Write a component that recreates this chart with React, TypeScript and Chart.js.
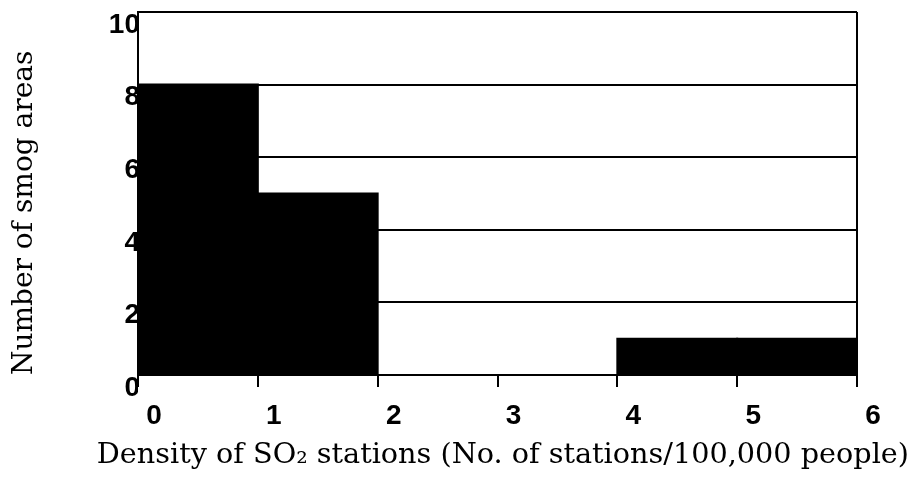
import React, { useEffect, useRef } from "react";
import { Chart, registerables } from "chart.js";

Chart.register(...registerables);

// Histogram bins (centre of each bin) and counts
const binCenters = [0.5, 1.5, 2.5, 3.5, 4.5, 5.5];
const smogAreas = [8, 5, 0, 0, 1, 1];
const xTickValues = [0, 1, 2, 3, 4, 5, 6];
const yTickValues = [0, 2, 4, 6, 8, 10];
const xTitle = "Density of SO\u2082 stations (No. of stations/100,000 people)";
const yTitle = "Number of smog areas";

export default function App() {
  const ref = useRef<HTMLCanvasElement>(null);

  useEffect(() => {
    const plotFrame = {
      id: "plotFrame",
      beforeDatasetsDraw(chart: any) {
        const { ctx, chartArea: a } = chart;
        ctx.save();
        ctx.fillStyle = "#fff";
        ctx.fillRect(a.left, a.top, a.right - a.left, a.bottom - a.top);
        ctx.restore();
      },
      afterDraw(chart: any) {
        const { ctx, chartArea: a } = chart;
        ctx.save();
        ctx.strokeStyle = "#000";
        ctx.lineWidth = 2;
        ctx.beginPath();
        ctx.moveTo(a.right, a.top);
        ctx.lineTo(a.right, a.bottom);
        ctx.stroke();
        ctx.restore();
      },
    };

    const chart = new Chart(ref.current!, {
      type: "bar",
      data: {
        datasets: [
          {
            data: binCenters.map((x, i) => ({ x, y: smogAreas[i] })),
            backgroundColor: "#000",
            borderWidth: 0,
            inflateAmount: 1,
            barPercentage: 1,
            categoryPercentage: 1,
          },
        ],
      },
      options: {
        animation: false,
        responsive: false,
        layout: { padding: { top: 4, right: 4, left: 0, bottom: 0 } },
        plugins: {
          legend: { display: false },
          tooltip: { enabled: false },
          title: {
            display: true,
            position: "bottom",
            align: "end",
            text: xTitle,
            color: "#000",
            padding: { top: 0, bottom: -3 },
            font: { family: "DejaVu Serif", size: 28.7, weight: "normal" },
          },
        },
        scales: {
          x: {
            type: "linear",
            min: 0,
            max: 6,
            offset: false,
            afterBuildTicks: (s: any) => {
              s.ticks = xTickValues.map((v) => ({ value: v }));
            },
            afterFit: (s: any) => {
              s.height = 63.56;
              s.paddingLeft = 0;
              s.paddingRight = 56;
            },
            grid: {
              offset: false,
              drawOnChartArea: false,
              drawTicks: true,
              tickLength: 12,
              color: "#000",
              lineWidth: 2,
            },
            border: { display: true, color: "#000", width: 2, z: 1 },
            ticks: {
              color: "#000",
              padding: 12,
              labelOffset: 16,
              maxRotation: 0,
              autoSkip: false,
              font: { family: "Liberation Sans", weight: "bold", size: 28 },
            },
          },
          y: {
            type: "linear",
            min: 0,
            max: 10,
            afterBuildTicks: (s: any) => {
              s.ticks = yTickValues.map((v) => ({ value: v }));
            },
            afterFit: (s: any) => {
              s.width = 130;
              s.paddingTop = 0;
              s.paddingBottom = 0;
            },
            grid: {
              drawTicks: false,
              color: "#000",
              lineWidth: 2,
              z: 1,
            },
            border: { display: true, color: "#000", width: 2, z: 1 },
            ticks: {
              z: -2,
              color: "#000",
              padding: -2,
              labelOffset: 13,
              font: { family: "Liberation Sans", weight: "bold", size: 28 },
            },
            title: {
              display: true,
              text: yTitle,
              align: "start",
              color: "#000",
              padding: { top: 0, bottom: 0 },
              font: { family: "DejaVu Serif", size: 28 },
            },
          },
        },
      },
      plugins: [plotFrame],
    } as any);

    return () => chart.destroy();
  }, []);

  return (
    <div style={{ width: 905, height: 462 }}>
      <canvas ref={ref} width={905} height={462} style={{ display: "block" }} />
    </div>
  );
}
